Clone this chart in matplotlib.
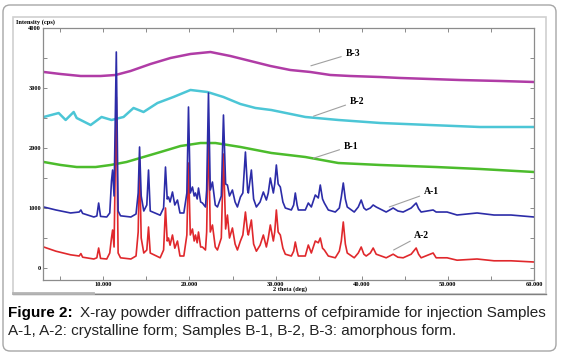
import matplotlib
matplotlib.use('Agg')
import matplotlib.pyplot as plt
from matplotlib.patches import FancyBboxPatch, Rectangle
from matplotlib.ticker import MultipleLocator, FormatStrFormatter

# amorphous samples
b3_x = [3.08, 5.05, 7.37, 9.69, 11.43, 13.16, 15.48, 17.8, 20.12, 22.44, 24.76, 27.08, 29.39,
        31.71, 34.03, 36.35, 38.67, 42.14, 44.46, 47.94, 51.41, 56.05, 60.0]
b3_y = [3267, 3233, 3200, 3200, 3217, 3283, 3400, 3500, 3567, 3600, 3533, 3450, 3367,
        3300, 3267, 3217, 3200, 3183, 3167, 3150, 3133, 3117, 3100]

b2_x = [3.08, 4.82, 5.63, 6.56, 6.91, 8.53, 9.8, 10.96, 12.35, 13.51, 14.67, 16.29, 18.14,
        20.12, 22.09, 23.94, 25.92, 27.66, 29.51, 33.45, 37.28, 42.14, 47.94, 53.74, 60.0]
b2_y = [2517, 2583, 2467, 2600, 2500, 2383, 2517, 2467, 2517, 2667, 2600, 2750, 2850,
        2967, 2933, 2850, 2733, 2667, 2633, 2517, 2467, 2417, 2383, 2350, 2350]

b1_x = [3.08, 5.05, 6.91, 9.11, 10.85, 12.7, 14.67, 16.64, 18.96, 21.28, 23.02, 25.92, 29.51,
        33.45, 37.28, 42.14, 48.64, 53.74, 60.0]
b1_y = [1767, 1717, 1683, 1683, 1717, 1767, 1850, 1933, 2033, 2083, 2083, 2017, 1917,
        1850, 1750, 1717, 1683, 1650, 1600]

# crystalline samples (peak vertices)
a_x = [3.08, 4.5, 6.2, 7.2, 7.4, 7.6, 8.9, 9.25, 9.46, 9.68, 10.4, 10.75, 10.95, 11.08, 11.25,
       11.51, 11.72, 12.0, 13.2, 13.8, 14.05, 14.21, 14.4, 14.7, 15.05, 15.25, 15.45, 16.6,
       17.0, 17.22, 17.42, 17.57, 17.75, 18.03, 18.3, 18.61, 18.9, 19.35, 19.7, 19.89, 20.1,
       20.35, 20.55, 20.7, 20.9, 21.05, 21.3, 21.51, 21.86, 22.0, 22.21, 22.42, 22.67, 23.0,
       23.25, 23.7, 23.95, 24.2, 24.41, 24.65, 24.99, 25.3, 25.57, 25.92, 26.2, 26.5, 26.75,
       26.84, 27.19, 27.45, 27.77, 28.2, 28.58, 28.93, 29.15, 29.39, 29.74, 29.9, 30.09, 30.3,
       30.55, 30.85, 31.13, 31.83, 32.1, 32.29, 32.5, 32.64, 33.45, 33.8, 34.15, 34.61, 34.96,
       35.19, 35.45, 35.66, 36.12, 36.93, 37.4, 37.63, 37.86, 38.1, 38.32, 39.13, 39.6, 39.94,
       40.25, 40.52, 41.0, 41.33, 41.68, 42.84, 43.65, 44.2, 44.81, 45.74, 46.32, 46.6, 46.9,
       48.29, 48.64, 49.91, 51.07, 53.39, 55.36, 57.33, 60.0]
a1_y = [1017, 967, 917, 933, 967, 910, 850, 867, 1083, 860, 850, 917, 1450, 1633, 1200,
        3600, 950, 870, 850, 900, 1250, 2017, 1200, 950, 1050, 1633, 950, 880,
        1000, 1683, 1150, 1183, 1100, 1267, 1050, 1133, 917, 917, 1250, 2683, 1250,
        1350, 1200, 1250, 1150, 1333, 1100, 1083, 1017, 1300, 2917, 1300, 1433, 1050,
        1017, 1200, 2550, 1400, 1383, 1200, 1300, 1100, 1017, 1183, 1250, 1933, 1300,
        1250, 1633, 1150, 1017, 1100, 1267, 1133, 1250, 1500, 1250, 1400, 1717, 1400,
        1350, 1100, 1000, 967, 1050, 1250, 1050, 967, 967, 1083, 1017, 1217, 1167,
        1383, 1150, 1083, 967, 933, 1000, 1183, 1417, 1150, 1017, 933, 1017, 1133,
        1000, 967, 1000, 1050, 1017, 933, 1000, 950, 933, 1000, 1083, 990, 933,
        967, 933, 933, 883, 917, 883, 883, 850]
a2_y = [350, 280, 220, 200, 240, 180, 150, 170, 333, 160, 150, 250, 500, 633, 350,
        2850, 250, 170, 150, 200, 600, 1800, 500, 250, 300, 683, 250, 170,
        300, 1000, 450, 500, 380, 550, 330, 450, 200, 200, 550, 1750, 550,
        650, 450, 550, 420, 600, 350, 350, 300, 600, 2300, 600, 717, 350,
        300, 500, 1900, 650, 883, 500, 667, 400, 300, 450, 550, 933, 600,
        550, 800, 400, 280, 380, 550, 350, 500, 717, 450, 600, 967, 600,
        550, 330, 230, 200, 280, 433, 280, 200, 200, 383, 250, 450, 420,
        500, 330, 300, 200, 170, 280, 450, 767, 400, 250, 170, 250, 350,
        230, 200, 250, 333, 230, 170, 230, 180, 170, 230, 333, 230, 170,
        250, 170, 170, 130, 150, 120, 120, 100]

series = [('B-3', b3_x, b3_y, '#b03ca6', 1.8), ('B-2', b2_x, b2_y, '#4cc6d6', 1.8),
          ('B-1', b1_x, b1_y, '#4cbc2c', 1.8), ('A-2', a_x, a2_y, '#e0282c', 1.2),
          ('A-1', a_x, a1_y, '#2c2ca8', 1.2)]
labels = {'B-3': ((34.1, 3370), (38.1, 3580)), 'B-2': ((34.4, 2530), (38.6, 2780)),
          'B-1': ((34.4, 1830), (37.9, 2033)), 'A-1': ((43.2, 1017), (47.2, 1267)),
          'A-2': ((43.7, 300), (46.1, 550))}

caption_bold = 'Figure 2:'
caption_1 = 'X-ray powder diffraction patterns of cefpiramide for injection Samples'
caption_2 = 'A-1, A-2: crystalline form; Samples B-1, B-2, B-3: amorphous form.'

W, H = 564, 356
fig = plt.figure(figsize=(W / 100, H / 100), dpi=100)

# background layer in pixel units
bg = fig.add_axes([0, 0, 1, 1])
bg.set_xlim(0, W)
bg.set_ylim(H, 0)
bg.axis('off')
bg.add_patch(FancyBboxPatch((3, 5), 553, 346, boxstyle='round,pad=0,rounding_size=7',
                            fc='white', ec='#a6a6a6', lw=1.0))
bg.add_patch(Rectangle((13, 17), 533, 277, fc='white', ec='#d0d0d0', lw=1.2))
bg.plot([13, 546], [294, 294], color='#808080', lw=1.0)
bg.plot([13, 93], [292.5, 292.5], color='#b4b4b4', lw=2.0)
bg.text(16, 22, 'Intensity (cps)', fontsize=4.6, family='Liberation Serif', weight='bold',
        va='center', ha='left')
bg.text(290, 289, '2 theta (deg)', fontsize=4.6, family='Liberation Serif', weight='bold',
        va='center', ha='center')

t = bg.text(8, 313, caption_bold, fontsize=11, family='Liberation Sans', weight='bold',
            va='center', ha='left')
bb = t.get_window_extent(fig.canvas.get_renderer())
bg.text(bb.x1 + 7, 313, caption_1, fontsize=11, family='Liberation Sans', va='center',
        ha='left', color='#222222')
bg.text(8, 331, caption_2, fontsize=11, family='Liberation Sans', va='center', ha='left',
        color='#222222')

ax = fig.add_axes([43 / W, 1 - 280 / H, (534 - 43) / W, (280 - 28) / H])
for name, xs, ys, c, w in series:
    ax.plot(xs, ys, color=c, lw=w)
    xy, xyt = labels[name]
    ax.annotate(name, xy=xy, xytext=xyt, fontsize=7, family='Liberation Serif', weight='bold',
                va='center', ha='left',
                arrowprops=dict(arrowstyle='-', color='#a0a0a0', lw=0.8, shrinkA=1, shrinkB=0))

ax.set_xlim(3, 60)
ax.set_ylim(-200, 4000)
ax.xaxis.set_major_locator(MultipleLocator(10))
ax.xaxis.set_minor_locator(MultipleLocator(5))
ax.xaxis.set_major_formatter(FormatStrFormatter('%.3f'))
ax.yaxis.set_major_locator(MultipleLocator(1000))
ax.yaxis.set_minor_locator(MultipleLocator(500))
ax.tick_params(which='both', direction='in', length=3, width=0.6, color='#777777',
               top=True, right=True, pad=1.5)
for lab in ax.get_xticklabels() + ax.get_yticklabels():
    lab.set_fontsize(4.6)
    lab.set_family('Liberation Serif')
    lab.set_weight('bold')
for s in ax.spines.values():
    s.set_color('#8c8c8c')
    s.set_linewidth(0.9)

fig.savefig('out.png', dpi=100)
